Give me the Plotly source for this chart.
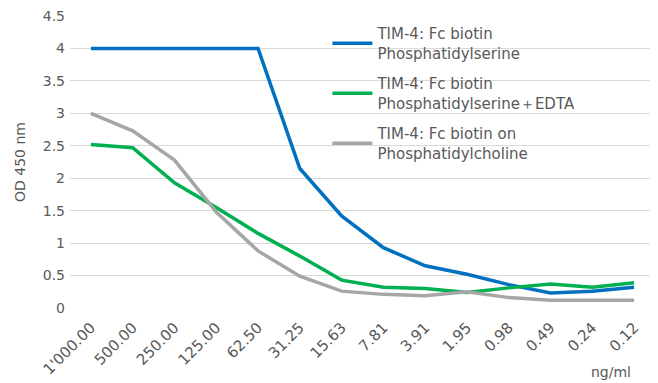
import plotly.graph_objects as go

categories = ["1'000.00", "500.00", "250.00", "125.00", "62.50", "31.25", "15.63",
              "7.81", "3.91", "1.95", "0.98", "0.49", "0.24", "0.12"]
ps = [4.0, 4.0, 4.0, 4.0, 4.0, 2.15, 1.42, 0.93, 0.65, 0.52, 0.36, 0.23, 0.26, 0.32]
ps_edta = [2.52, 2.47, 1.93, 1.55, 1.15, 0.8, 0.43, 0.32, 0.30, 0.24, 0.31, 0.37, 0.32, 0.39]
pc = [3.0, 2.73, 2.28, 1.48, 0.88, 0.49, 0.26, 0.21, 0.19, 0.25, 0.16, 0.12, 0.12, 0.12]

names = ["TIM-4: Fc biotin<br>Phosphatidylserine",
         "TIM-4: Fc biotin<br>Phosphatidylserine＋EDTA",
         "TIM-4: Fc biotin on<br>Phosphatidylcholine"]
colors = ["#0070C0", "#00B050", "#A6A6A6"]

font = "DejaVu Sans, Noto Sans, sans-serif"
txt = "#595959"

fig = go.Figure()
for i, (vals, name, col) in enumerate(zip([ps, ps_edta, pc], names, colors)):
    fig.add_trace(go.Scatter(x=categories, y=vals, name=name, mode="lines",
                             legendgroup=f"g{i}",
                             line=dict(color=col, width=3.5)))

# page body has an 8px default margin, so the figure is sized/offset to compensate
fig.update_layout(
    width=650, height=375,
    margin=dict(l=62, r=3, t=8, b=75),
    paper_bgcolor="white", plot_bgcolor="white",
    font=dict(family=font, size=13, color=txt),
    showlegend=True,
    legend=dict(x=0.44, y=0.996, xanchor="left", yanchor="top",
                bgcolor="rgba(0,0,0,0)", font=dict(size=15, color=txt),
                tracegroupgap=8, itemwidth=40),
    xaxis=dict(type="category", range=[-0.5, 13.5], tickangle=-45, showgrid=False,
               showline=False, ticks="", ticklabelstandoff=7, automargin=False,
               ticklabeloverflow="allow",
               tickfont=dict(size=15, color=txt)),
    yaxis=dict(range=[0, 4.5], dtick=0.5, showgrid=True, gridcolor="#D9D9D9",
               gridwidth=1, zeroline=False, showline=False, ticks="",
               ticklabelstandoff=4, automargin=False, ticklabeloverflow="allow",
               tickfont=dict(size=14, color=txt),
               title=dict(text="OD 450 nm", font=dict(size=14, color=txt), standoff=13)),
    annotations=[dict(text="ng/ml", x=0.962, y=-0.219, xref="paper", yref="paper",
                      xanchor="right", yanchor="middle", showarrow=False,
                      font=dict(size=14, color=txt))],
)

fig.write_html("out.html")
